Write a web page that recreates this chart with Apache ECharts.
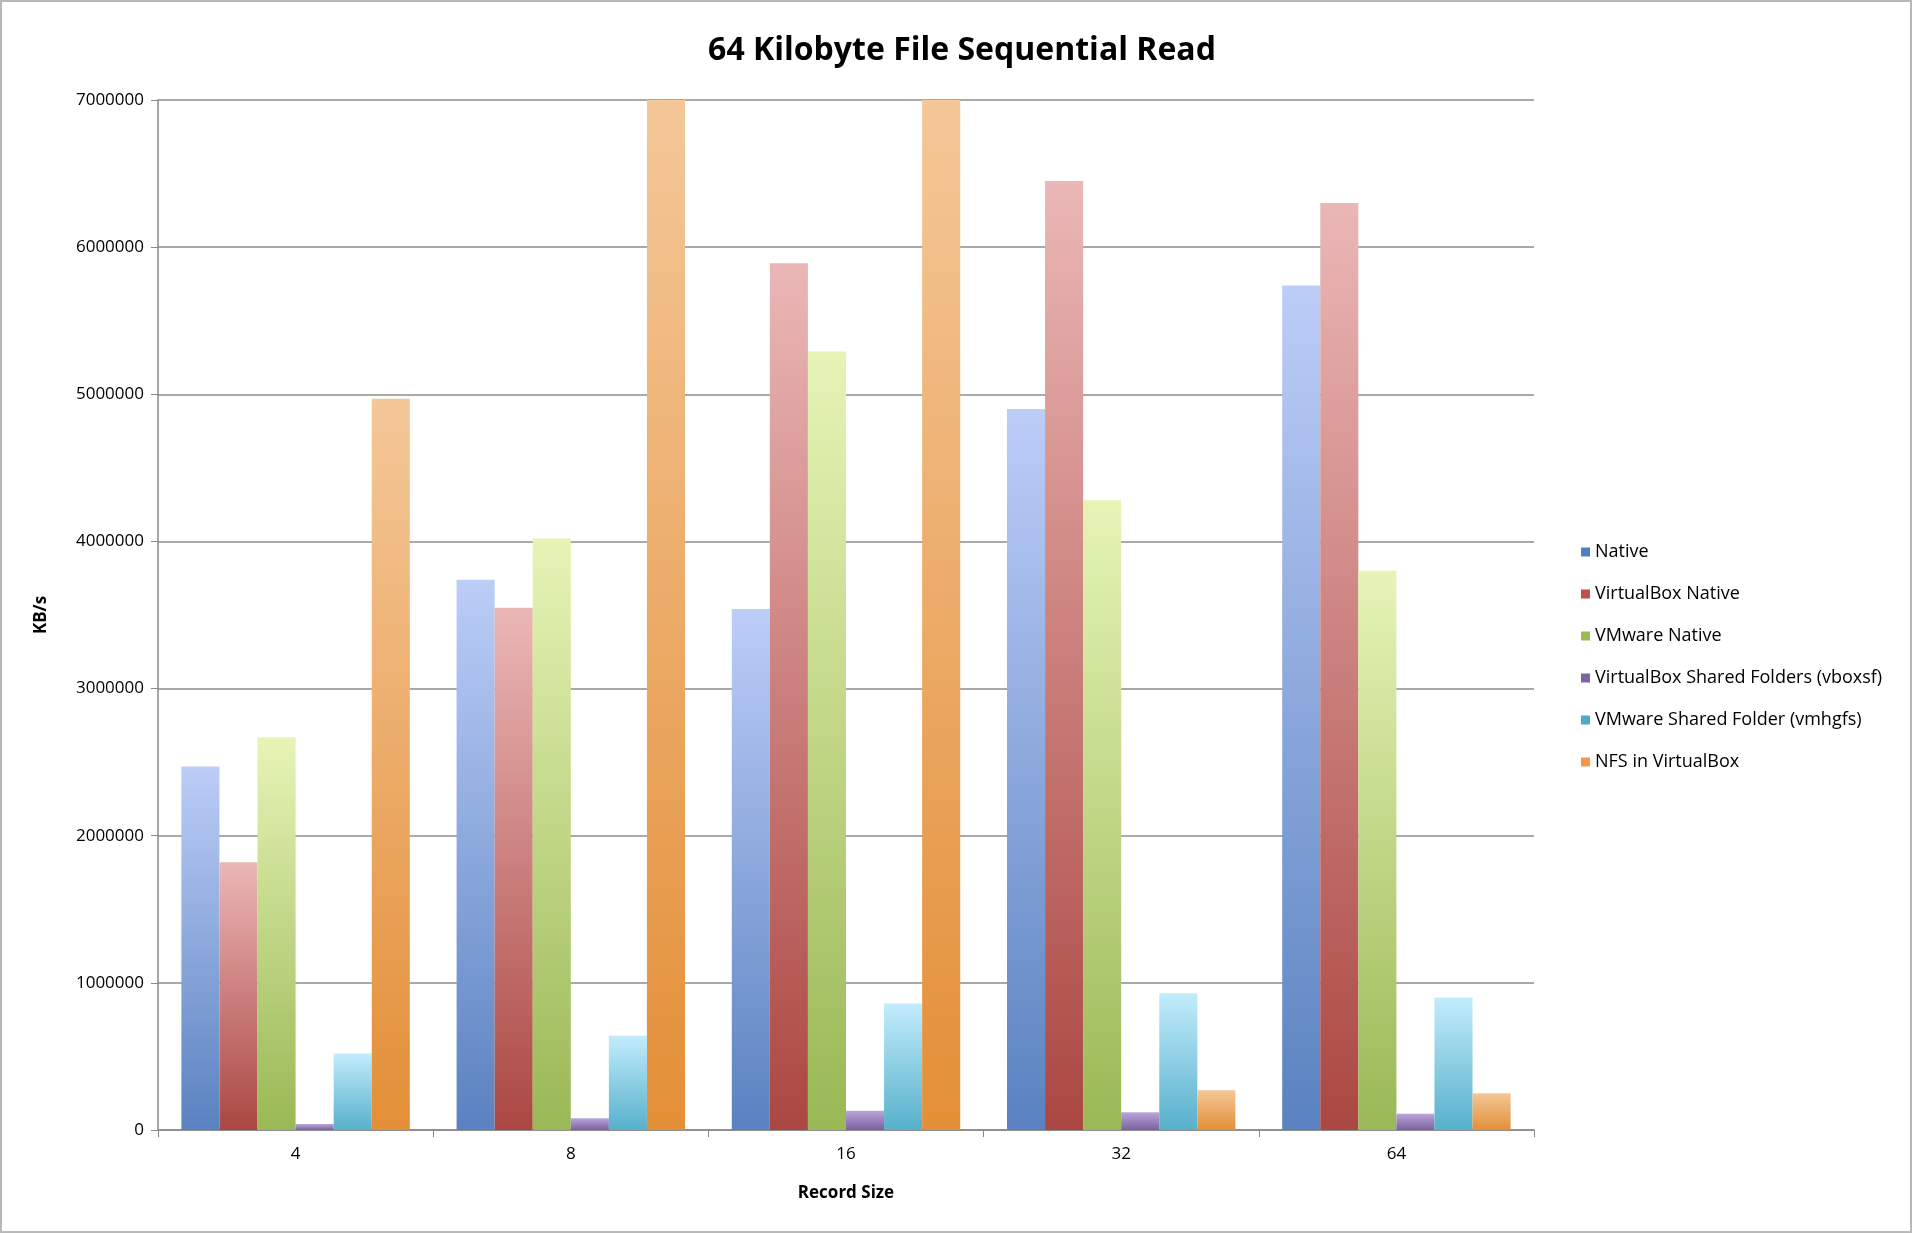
<!DOCTYPE html>
<html>
<head>
<meta charset="utf-8">
<script src="https://cdn.jsdelivr.net/npm/echarts@6/dist/echarts.min.js"></script>
<style>
    html, body { margin: 0; padding: 0; background: #fff; }
    #chart { width: 1908px; height: 1229px; border: 2px solid #b8b8b8; }
</style>
</head>
<body>
<div id="chart"></div>
<script>
// 数据
const categories = ['4', '8', '16', '32', '64'];
const seriesNames = ['Native', 'VirtualBox Native', 'VMware Native',
    'VirtualBox Shared Folders (vboxsf)', 'VMware Shared Folder (vmhgfs)', 'NFS in VirtualBox'];
const native = [2470000, 3740000, 3540000, 4900000, 5740000];
const vboxNative = [1820000, 3550000, 5890000, 6450000, 6300000];
const vmwareNative = [2670000, 4020000, 5290000, 4280000, 3800000];
const vboxsf = [40000, 80000, 130000, 120000, 110000];
const vmhgfs = [520000, 640000, 860000, 930000, 900000];
const nfs = [4970000, 7000000, 7000000, 270000, 250000];
const allValues = [native, vboxNative, vmwareNative, vboxsf, vmhgfs, nfs];

// 渐变色：上浅下深
const colors = [
    ['#bccdf7', '#5a82c0'],
    ['#eab7b6', '#ab4742'],
    ['#e6f4b6', '#9ab855'],
    ['#baa6d8', '#7a60a2'],
    ['#c2ecfc', '#57b0cb'],
    ['#f4c798', '#e38f37']
];
const legendColors = ['#4f81bd', '#c0504d', '#9bbb59', '#8064a2', '#4bacc6', '#f79646'];

const font = '"Open Sans", "Liberation Sans", sans-serif';

let series = seriesNames.map((name, i) => ({
    name: name,
    type: 'bar',
    data: allValues[i],
    barGap: '0%',
    barCategoryGap: '17%',
    itemStyle: {
        color: new echarts.graphic.LinearGradient(0, 0, 0, 1, [
            {offset: 0, color: colors[i][0]},
            {offset: 1, color: colors[i][1]}
        ])
    }
}));

let option = {
    animation: false,
    textStyle: {fontFamily: font},
    title: {
        text: '64 Kilobyte File Sequential Read',
        left: 955,
        top: 28,
        textAlign: 'center',
        textStyle: {fontSize: 32, fontWeight: 'bold', color: '#000', fontFamily: font}
    },
    legend: {
        orient: 'vertical',
        left: 1574,
        top: 536,
        itemGap: 24,
        itemWidth: 9,
        itemHeight: 9,
        icon: 'rect',
        data: seriesNames.map((n, i) => ({name: n, itemStyle: {color: legendColors[i]}})),
        textStyle: {fontSize: 18, color: '#000', fontFamily: font}
    },
    grid: {left: 156, right: 376, top: 98, bottom: 101},
    xAxis: {
        type: 'category',
        data: categories,
        name: 'Record Size',
        nameLocation: 'middle',
        nameGap: 55,
        nameTextStyle: {fontSize: 17, fontWeight: 'bold', color: '#000'},
        axisLine: {lineStyle: {color: '#888', width: 1.5}},
        axisTick: {show: true, length: 7, lineStyle: {color: '#888'}},
        axisLabel: {fontSize: 17, color: '#000', margin: 16}
    },
    yAxis: {
        type: 'value',
        min: 0,
        max: 7000000,
        interval: 1000000,
        name: 'KB/s',
        nameLocation: 'middle',
        nameGap: 108,
        nameTextStyle: {fontSize: 17, fontWeight: 'bold', color: '#000'},
        axisLine: {show: true, lineStyle: {color: '#888', width: 1.5}},
        axisTick: {show: true, length: 7, lineStyle: {color: '#888'}},
        axisLabel: {fontSize: 17, color: '#000', margin: 14, formatter: v => String(v)},
        splitLine: {lineStyle: {color: '#8c8c8c', width: 1.5}}
    },
    series: series
};

let chart = echarts.init(document.getElementById('chart'));
chart.setOption(option);
</script>
</body>
</html>
